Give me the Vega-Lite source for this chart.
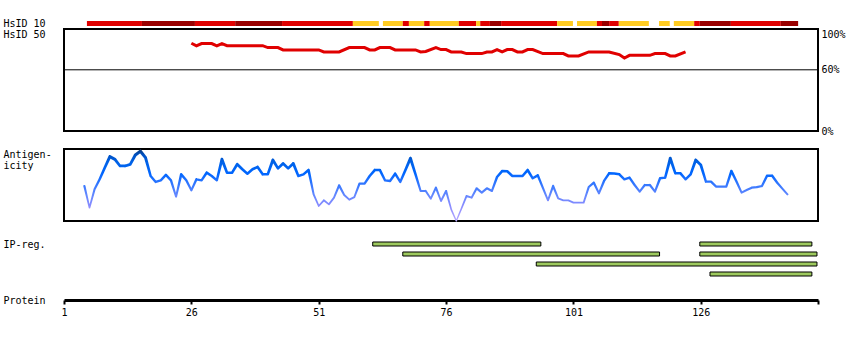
{
  "$schema": "https://vega.github.io/schema/vega-lite/v6.json",
  "background": "white",
  "padding": {"left": 2, "top": 17, "right": 5, "bottom": 5},
  "spacing": 18,
  "bounds": "flush",
  "config": {
    "view": {"stroke": null},
    "font": "DejaVu Sans Mono",
    "axis": {"labelFont": "DejaVu Sans Mono", "labelFontSize": 10, "labelColor": "black", "titleFont": "DejaVu Sans Mono", "titleFontSize": 10, "titleFontWeight": "normal", "titleColor": "black", "grid": false}
  },
  "vconcat": [
    {
      "width": 754,
      "height": 102,
      "view": {"stroke": "black", "strokeWidth": 2},
      "layer": [
        {
          "data": {"values": [
            {"track": "HsID 10", "start": 5.5, "end": 16.3, "level": "mid"},
            {"track": "HsID 10", "start": 16.3, "end": 26.7, "level": "high"},
            {"track": "HsID 10", "start": 26.7, "end": 34.6, "level": "mid"},
            {"track": "HsID 10", "start": 34.6, "end": 43.8, "level": "high"},
            {"track": "HsID 10", "start": 43.8, "end": 57.7, "level": "mid"},
            {"track": "HsID 10", "start": 57.7, "end": 62.8, "level": "low"},
            {"track": "HsID 10", "start": 63.6, "end": 67.5, "level": "low"},
            {"track": "HsID 10", "start": 67.5, "end": 68.7, "level": "mid"},
            {"track": "HsID 10", "start": 68.7, "end": 71.7, "level": "low"},
            {"track": "HsID 10", "start": 71.7, "end": 72.8, "level": "mid"},
            {"track": "HsID 10", "start": 72.8, "end": 78.5, "level": "low"},
            {"track": "HsID 10", "start": 78.5, "end": 81.9, "level": "mid"},
            {"track": "HsID 10", "start": 81.9, "end": 82.7, "level": "low"},
            {"track": "HsID 10", "start": 82.7, "end": 84.6, "level": "mid"},
            {"track": "HsID 10", "start": 84.6, "end": 86.8, "level": "high"},
            {"track": "HsID 10", "start": 86.8, "end": 97.8, "level": "mid"},
            {"track": "HsID 10", "start": 97.8, "end": 100.9, "level": "low"},
            {"track": "HsID 10", "start": 101.7, "end": 105.6, "level": "low"},
            {"track": "HsID 10", "start": 105.6, "end": 106.6, "level": "mid"},
            {"track": "HsID 10", "start": 106.6, "end": 108.0, "level": "high"},
            {"track": "HsID 10", "start": 108.0, "end": 109.9, "level": "mid"},
            {"track": "HsID 10", "start": 109.9, "end": 115.8, "level": "low"},
            {"track": "HsID 10", "start": 117.8, "end": 119.9, "level": "low"},
            {"track": "HsID 10", "start": 120.7, "end": 124.7, "level": "low"},
            {"track": "HsID 10", "start": 124.7, "end": 125.8, "level": "mid"},
            {"track": "HsID 10", "start": 125.8, "end": 131.9, "level": "high"},
            {"track": "HsID 10", "start": 131.9, "end": 141.7, "level": "mid"},
            {"track": "HsID 10", "start": 141.7, "end": 145.1, "level": "high"}
          ]},
          "mark": {"type": "bar", "size": 5},
          "encoding": {
            "x": {"field": "start", "type": "quantitative", "scale": {"domain": [1, 149], "nice": false, "zero": false}, "axis": null},
            "x2": {"field": "end"},
            "y": {"field": "track", "type": "nominal", "scale": {"range": [-10.5, -0.5]}, "axis": {"orient": "left", "title": null, "labelAlign": "left", "labelBaseline": "middle", "labelPadding": 61, "ticks": false, "domain": false}},
            "color": {"field": "level", "type": "nominal", "scale": {"domain": ["high", "mid", "low"], "range": ["#990000", "#e00000", "#ffcc22"]}, "legend": null}
          }
        },
        {
          "data": {"values": [
            {"pos": 26, "v": 86.0}, {"pos": 27, "v": 83.4}, {"pos": 28, "v": 85.7}, {"pos": 30, "v": 85.7}, {"pos": 31, "v": 83.4}, {"pos": 32, "v": 85.7}, {"pos": 33, "v": 83.7}, {"pos": 40, "v": 83.7}, {"pos": 41, "v": 81.8}, {"pos": 43, "v": 81.8}, {"pos": 44, "v": 79.5}, {"pos": 51, "v": 79.5}, {"pos": 52, "v": 77.5}, {"pos": 55, "v": 77.5}, {"pos": 57, "v": 81.8}, {"pos": 60, "v": 81.8}, {"pos": 61, "v": 79.5}, {"pos": 62, "v": 79.5}, {"pos": 63, "v": 81.8}, {"pos": 65, "v": 81.8}, {"pos": 66, "v": 79.5}, {"pos": 70, "v": 79.5}, {"pos": 71, "v": 77.5}, {"pos": 72, "v": 78.0}, {"pos": 74, "v": 81.8}, {"pos": 75, "v": 79.8}, {"pos": 76, "v": 79.8}, {"pos": 77, "v": 77.5}, {"pos": 79, "v": 77.5}, {"pos": 80, "v": 75.9}, {"pos": 83, "v": 75.9}, {"pos": 84, "v": 77.5}, {"pos": 85, "v": 77.5}, {"pos": 86, "v": 79.8}, {"pos": 87, "v": 77.5}, {"pos": 88, "v": 79.8}, {"pos": 89, "v": 79.8}, {"pos": 90, "v": 77.5}, {"pos": 91, "v": 77.5}, {"pos": 92, "v": 79.8}, {"pos": 93, "v": 79.8}, {"pos": 95, "v": 75.9}, {"pos": 99, "v": 75.9}, {"pos": 100, "v": 73.6}, {"pos": 102, "v": 73.6}, {"pos": 104, "v": 77.5}, {"pos": 108, "v": 77.5}, {"pos": 110, "v": 74.9}, {"pos": 111, "v": 71.6}, {"pos": 112, "v": 74.2}, {"pos": 116, "v": 74.2}, {"pos": 117, "v": 75.9}, {"pos": 119, "v": 75.9}, {"pos": 120, "v": 73.6}, {"pos": 121, "v": 73.6}, {"pos": 123, "v": 77.5}
          ]},
          "mark": {"type": "line", "color": "#e00000", "strokeWidth": 3},
          "encoding": {
            "x": {"field": "pos", "type": "quantitative", "scale": {"domain": [1, 149], "nice": false, "zero": false}, "axis": null},
            "y": {"field": "v", "type": "quantitative", "scale": {"domain": [0, 100], "nice": false}, "axis": {"orient": "right", "values": [0, 60, 100], "labelExpr": "datum.value + '%'", "ticks": false, "domain": false, "labelPadding": 3, "labelFlush": false, "labelBaseline": {"condition": {"test": "datum.value == 100", "value": "top"}, "value": "middle"}, "title": "HsID 50", "titleAngle": 0, "titleAlign": "left", "titleBaseline": "middle", "titleX": -815, "titleY": 5}}
          }
        },
        {
          "data": {"values": [{"ref": 60}]},
          "mark": {"type": "rule", "color": "black", "strokeWidth": 1},
          "encoding": {
            "y": {"field": "ref", "type": "quantitative", "scale": {"domain": [0, 100], "nice": false}, "axis": null}
          }
        }
      ],
      "resolve": {"scale": {"y": "independent"}, "axis": {"y": "independent"}}
    },
    {
      "width": 754,
      "height": 72,
      "view": {"stroke": "black", "strokeWidth": 2},
      "data": {"values": [
        {"pos": 5, "v": 48.6}, {"pos": 6, "v": 18.5}, {"pos": 7, "v": 44}, {"pos": 8, "v": 57.9}, {"pos": 9, "v": 74}, {"pos": 10, "v": 89.4}, {"pos": 11, "v": 85.6}, {"pos": 12, "v": 76.4}, {"pos": 13, "v": 76.4}, {"pos": 14, "v": 78.7}, {"pos": 15, "v": 91.7}, {"pos": 16, "v": 97}, {"pos": 17, "v": 88}, {"pos": 18, "v": 62.5}, {"pos": 19, "v": 54.2}, {"pos": 20, "v": 56.5}, {"pos": 21, "v": 63.9}, {"pos": 22, "v": 56.5}, {"pos": 23, "v": 33.8}, {"pos": 24, "v": 64.8}, {"pos": 25, "v": 56.5}, {"pos": 26, "v": 42.6}, {"pos": 27, "v": 57.9}, {"pos": 28, "v": 56.5}, {"pos": 29, "v": 67.1}, {"pos": 30, "v": 62.5}, {"pos": 31, "v": 56.5}, {"pos": 32, "v": 85.6}, {"pos": 33, "v": 67.1}, {"pos": 34, "v": 67.1}, {"pos": 35, "v": 78.7}, {"pos": 36, "v": 71.8}, {"pos": 37, "v": 65.7}, {"pos": 38, "v": 71.8}, {"pos": 39, "v": 75}, {"pos": 40, "v": 64.8}, {"pos": 41, "v": 65}, {"pos": 42, "v": 84.7}, {"pos": 43, "v": 73.1}, {"pos": 44, "v": 80}, {"pos": 45, "v": 73.1}, {"pos": 46, "v": 80}, {"pos": 47, "v": 62.5}, {"pos": 48, "v": 64.8}, {"pos": 49, "v": 70.8}, {"pos": 50, "v": 37}, {"pos": 51, "v": 20.8}, {"pos": 52, "v": 28.7}, {"pos": 53, "v": 23.1}, {"pos": 54, "v": 32.4}, {"pos": 55, "v": 49.5}, {"pos": 56, "v": 36.1}, {"pos": 57, "v": 29.6}, {"pos": 58, "v": 33.3}, {"pos": 59, "v": 51.9}, {"pos": 60, "v": 51.9}, {"pos": 61, "v": 62.5}, {"pos": 62, "v": 70.8}, {"pos": 63, "v": 70.8}, {"pos": 64, "v": 56.5}, {"pos": 65, "v": 55.5}, {"pos": 66, "v": 65.7}, {"pos": 67, "v": 54.2}, {"pos": 68, "v": 70.6}, {"pos": 69, "v": 87.1}, {"pos": 70, "v": 64.8}, {"pos": 71, "v": 41.7}, {"pos": 72, "v": 41.7}, {"pos": 73, "v": 31}, {"pos": 74, "v": 46.3}, {"pos": 75, "v": 27.8}, {"pos": 76, "v": 41.7}, {"pos": 77, "v": 16.2}, {"pos": 78, "v": 0}, {"pos": 79, "v": 17}, {"pos": 80, "v": 34.7}, {"pos": 81, "v": 32.4}, {"pos": 82, "v": 45.4}, {"pos": 83, "v": 39.4}, {"pos": 84, "v": 45.4}, {"pos": 85, "v": 41.7}, {"pos": 86, "v": 61.1}, {"pos": 87, "v": 69.4}, {"pos": 88, "v": 69}, {"pos": 89, "v": 62.5}, {"pos": 90, "v": 62.5}, {"pos": 91, "v": 62.5}, {"pos": 92, "v": 70.8}, {"pos": 93, "v": 59.3}, {"pos": 94, "v": 63.4}, {"pos": 95, "v": 46}, {"pos": 96, "v": 28.7}, {"pos": 97, "v": 48.6}, {"pos": 98, "v": 31.5}, {"pos": 99, "v": 28.7}, {"pos": 100, "v": 28.7}, {"pos": 101, "v": 25.5}, {"pos": 102, "v": 25.5}, {"pos": 103, "v": 25.5}, {"pos": 104, "v": 47.2}, {"pos": 105, "v": 53.2}, {"pos": 106, "v": 38.4}, {"pos": 107, "v": 55.6}, {"pos": 108, "v": 66.2}, {"pos": 109, "v": 66}, {"pos": 110, "v": 64.8}, {"pos": 111, "v": 57.9}, {"pos": 112, "v": 60.2}, {"pos": 113, "v": 50}, {"pos": 114, "v": 40.7}, {"pos": 115, "v": 50}, {"pos": 116, "v": 50}, {"pos": 117, "v": 40.7}, {"pos": 118, "v": 59.3}, {"pos": 119, "v": 60.2}, {"pos": 120, "v": 87.1}, {"pos": 121, "v": 66.2}, {"pos": 122, "v": 66.2}, {"pos": 123, "v": 57.9}, {"pos": 124, "v": 64.8}, {"pos": 125, "v": 84.7}, {"pos": 126, "v": 77.8}, {"pos": 127, "v": 54.6}, {"pos": 128, "v": 54.6}, {"pos": 129, "v": 47.7}, {"pos": 130, "v": 47.7}, {"pos": 131, "v": 47.7}, {"pos": 132, "v": 69.4}, {"pos": 133, "v": 55}, {"pos": 134, "v": 39.4}, {"pos": 135, "v": 43}, {"pos": 136, "v": 46.3}, {"pos": 137, "v": 47}, {"pos": 138, "v": 48.6}, {"pos": 139, "v": 62.9}, {"pos": 140, "v": 62.9}, {"pos": 141, "v": 53.2}, {"pos": 142, "v": 45}, {"pos": 143, "v": 37}
      ]},
      "mark": {
        "type": "trail",
        "color": {"gradient": "linear", "x1": 0, "y1": 0, "x2": 0, "y2": 1, "stops": [
          {"offset": 0, "color": "#0a3d80"},
          {"offset": 0.07, "color": "#0050c0"},
          {"offset": 0.18, "color": "#0062e8"},
          {"offset": 0.33, "color": "#0066ff"},
          {"offset": 0.48, "color": "#3377ff"},
          {"offset": 0.64, "color": "#6688ff"},
          {"offset": 0.79, "color": "#8c8cff"},
          {"offset": 1, "color": "#b8aaff"}
        ]}
      },
      "encoding": {
        "x": {"field": "pos", "type": "quantitative", "scale": {"domain": [1, 149], "nice": false, "zero": false}, "axis": null},
        "y": {"field": "v", "type": "quantitative", "scale": {"domain": [0, 100], "nice": false}, "axis": {"title": ["Antigen-", "icity"], "titleAngle": 0, "titleAlign": "left", "titleBaseline": "top", "titleLineHeight": 11, "titleX": -61, "titleY": 0, "labels": false, "ticks": false, "domain": false}},
        "size": {"field": "v", "type": "quantitative", "scale": {"domain": [0, 100], "range": [1.3, 3.2]}, "legend": null}
      }
    },
    {
      "width": 754,
      "height": 40,
      "data": {"values": [
        {"row": 1, "start": 61.6, "end": 94.6},
        {"row": 1, "start": 125.8, "end": 147.8},
        {"row": 2, "start": 67.5, "end": 117.9},
        {"row": 2, "start": 125.8, "end": 148.8},
        {"row": 3, "start": 93.7, "end": 148.8},
        {"row": 4, "start": 127.8, "end": 147.8}
      ]},
      "mark": {"type": "bar", "size": 4, "color": "#9dc95e", "stroke": "black", "strokeWidth": 1},
      "encoding": {
        "x": {"field": "start", "type": "quantitative", "scale": {"domain": [1, 149], "nice": false, "zero": false}, "axis": {"values": [1, 26, 51, 76, 101, 126, 149], "labelExpr": "datum.value == 149 ? '' : datum.label", "offset": 21, "domainWidth": 3, "domainColor": "black", "domainCap": "butt", "tickColor": "black", "tickSize": 4, "tickWidth": 2, "labelPadding": 3, "labelFlush": false, "title": "Protein", "titleAnchor": "start", "titleAlign": "left", "titleBaseline": "middle", "titleX": -61, "titleY": 0}},
        "x2": {"field": "end"},
        "y": {"field": "row", "type": "ordinal", "axis": {"title": "IP-reg.", "titleAngle": 0, "titleAlign": "left", "titleBaseline": "middle", "titleX": -61, "titleY": 5, "labels": false, "ticks": false, "domain": false}}
      }
    }
  ]
}
